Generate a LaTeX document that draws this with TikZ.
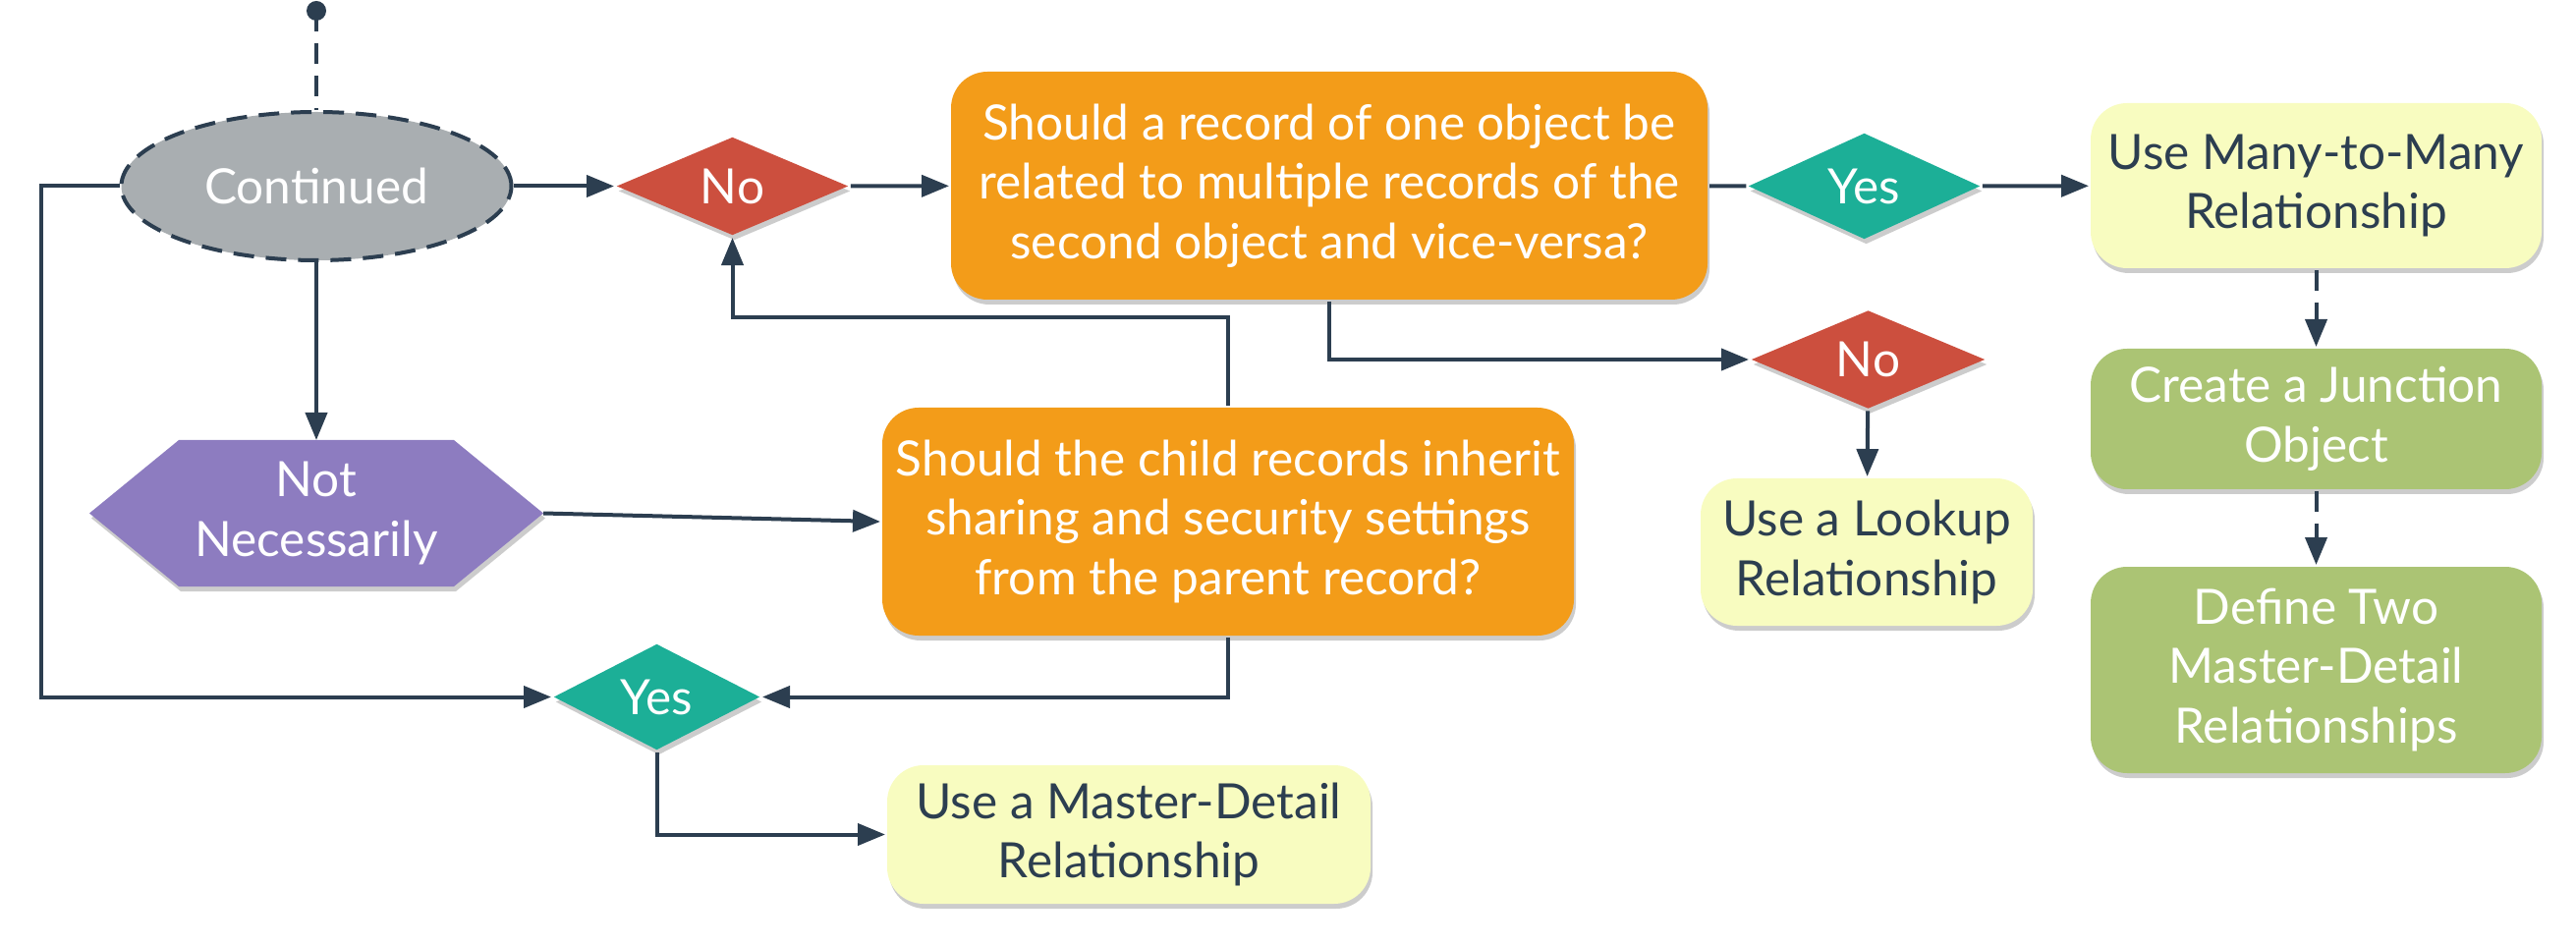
\documentclass[tikz,border=0pt]{standalone}
\usepackage{fontspec}
\setmainfont{Lato}
\usetikzlibrary{shapes.geometric,arrows.meta,shadows,backgrounds}
\definecolor{linedark}{HTML}{2C3E50}
\definecolor{contgray}{HTML}{A9AEB1}
\definecolor{nored}{HTML}{CC4F3E}
\definecolor{yesteal}{HTML}{1CAF97}
\definecolor{askorange}{HTML}{F39C19}
\definecolor{useyellow}{HTML}{F8FCC0}
\definecolor{stepgreen}{HTML}{ABC474}
\definecolor{hexpurple}{HTML}{8D7CC0}

\begin{document}
\begin{tikzpicture}[line width=0.04cm, draw=linedark,
    every node/.style={font=\fontsize{14.1}{17.2}\selectfont, align=center, inner sep=0pt},
    soft_shadow/.style={drop shadow={shadow xshift=0.02cm, shadow yshift=-0.05cm, fill=black, opacity=0.2}},
    decision_node/.style={diamond, minimum width=2.37cm, minimum height=0.93cm, text=white, soft_shadow},
    box_node/.style={rectangle, rounded corners=0.37cm, soft_shadow},
    arrow_line/.style={-{Triangle[length=0.28cm, width=0.22cm]}},
    dash_line/.style={dash pattern=on 0.21cm off 0.12cm}]
	    \useasboundingbox (0,0) rectangle (26.22,-9.62);
	    \coordinate (0) at (3.22,-0.11);
	    \node[ellipse, fill=contgray, draw=linedark, dash_line, text=white, minimum width=3.97cm, minimum height=1.51cm] (1) at (3.22,-1.895) {Continued};
	    \node[decision_node, fill=nored] (2) at (7.455,-1.895) {No};
	    \node[box_node, fill=askorange, text=white, minimum width=7.70cm, minimum height=2.32cm] (3) at (13.53,-1.89) {Should a record of one object be\\related to multiple records of the\\second object and vice-versa?};
	    \node[decision_node, fill=yesteal] (4) at (18.975,-1.895) {Yes};
	    \node[box_node, fill=useyellow, text=linedark, minimum width=4.59cm, minimum height=1.68cm] (5) at (23.575,-1.89) {Use Many-to-Many\\Relationship};
	    \node[box_node, fill=stepgreen, text=white, minimum width=4.59cm, minimum height=1.43cm] (6) at (23.575,-4.265) {Create a Junction\\Object};
	    \node[box_node, fill=stepgreen, text=white, minimum width=4.59cm, minimum height=2.10cm] (7) at (23.575,-6.82) {Define Two\\Master-Detail\\Relationships};
	    \node[decision_node, fill=nored, minimum width=2.39cm, minimum height=0.92cm] (8) at (19.015,-3.66) {No};
	    \node[box_node, fill=useyellow, text=linedark, minimum width=3.38cm, minimum height=1.50cm] (9) at (19.00,-5.62) {Use a Lookup\\Relationship};
	    \node[rectangle, text=white, minimum width=4.58cm, minimum height=1.45cm] (10) at (3.22,-5.225) {Not\\Necessarily};
	    \node[box_node, fill=askorange, text=white, minimum width=7.04cm, minimum height=2.32cm] (11) at (12.50,-5.31) {Should the child records inherit\\sharing and security settings\\from the parent record?};
	    \node[decision_node, fill=yesteal, minimum width=2.11cm, minimum height=0.91cm] (12) at (6.685,-7.095) {Yes};
	    \node[box_node, fill=useyellow, text=linedark, minimum width=4.92cm, minimum height=1.41cm] (13) at (11.49,-8.495) {Use a Master-Detail\\Relationship};

	    \begin{scope}[on background layer]
	        \fill[hexpurple, soft_shadow] (10.west) -- ([xshift=0.91cm]10.north west) -- ([xshift=-0.91cm]10.north east) -- (10.east) -- ([xshift=-0.91cm]10.south east) -- ([xshift=0.91cm]10.south west) -- cycle;
	    \end{scope}

	    \fill[linedark] (0) circle (0.1);
	    \draw[dash_line] (0) -- (1);
	    \draw[arrow_line] (1) -- (10);
	    \draw[arrow_line] (1) -- (2);
	    \draw[arrow_line] (1.west) -- (0.42,-1.895) |- (12.west);
	    \draw[arrow_line] (2) -- (3);
	    \draw (3) -- (4);
	    \draw[arrow_line] (4) -- (5);
	    \draw[arrow_line, dash_line] (5) -- (6);
	    \draw[arrow_line, dash_line] (6) -- (7);
	    \draw[arrow_line] (3.south) |- (8.west);
	    \draw[arrow_line] (8) -- (9);
	    \draw[arrow_line] (10.east) -- (11.west);
	    \draw[arrow_line] (11.north) -- ++(0,0.9) -| (2.south);
	    \draw[arrow_line] (11.south) |- (12.east);
	    \draw[arrow_line] (12.south) |- (13.west);
        \end{tikzpicture}
\end{document}
